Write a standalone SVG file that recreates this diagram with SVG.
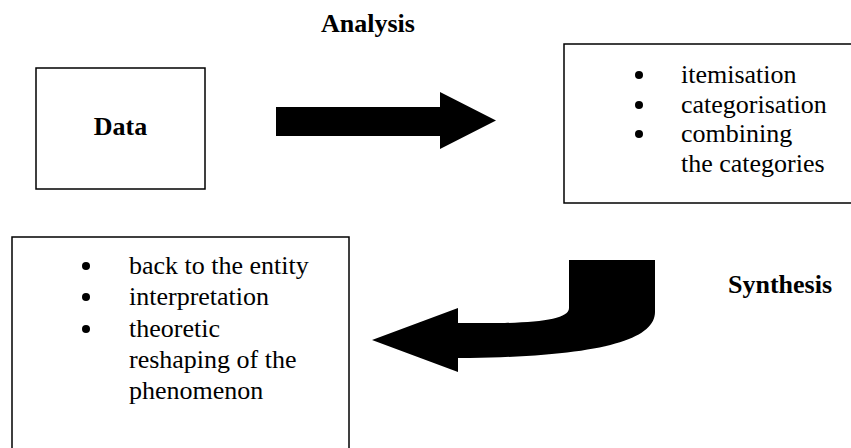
<svg xmlns="http://www.w3.org/2000/svg" width="851" height="448" viewBox="0 0 851 448">
<style>
.box{fill:#fff;stroke:#000;stroke-width:1.5}
.t{font-family:"Liberation Serif","Times New Roman",serif;font-size:26px;fill:#000}
.b{font-weight:bold}
.arrow{fill:#000;stroke:none}
</style>
<rect width="851" height="448" fill="#fff"/>
<text class="t b" x="321" y="32">Analysis</text>
<text class="t b" x="728" y="293">Synthesis</text>
<g id="data">
<rect class="box" x="36" y="68" width="169" height="121"/>
<text class="t b" x="120.5" y="135" text-anchor="middle">Data</text>
</g>
<g id="analysis-steps">
<rect class="box" x="564" y="44" width="300" height="159"/>
<circle cx="639" cy="75" r="4"/>
<circle cx="639" cy="105" r="4"/>
<circle cx="639" cy="134" r="4"/>
<text class="t" x="681" y="83">itemisation</text>
<text class="t" x="681" y="113">categorisation</text>
<text class="t" x="681" y="142">combining</text>
<text class="t" x="681" y="172">the categories</text>
</g>
<g id="synthesis-steps">
<rect class="box" x="12" y="237" width="337" height="220"/>
<circle cx="86" cy="266" r="4"/>
<circle cx="86" cy="297" r="4"/>
<circle cx="86" cy="329" r="4"/>
<text class="t" x="129" y="274">back to the entity</text>
<text class="t" x="129" y="305">interpretation</text>
<text class="t" x="129" y="337">theoretic</text>
<text class="t" x="129" y="368">reshaping of the</text>
<text class="t" x="129" y="399">phenomenon</text>
</g>
<g id="connectors">
<path class="arrow" d="M276 107 L440 107 L440 92 L496 120.5 L440 149 L440 136 L276 136 Z"/>
<path class="arrow" d="M372 340 L458 308 L458 323 L505 323 C545 322 569 318 569 308 L569 260 L655 260 L655 312 C655 340 600 356 470 358 L458 358 L458 372 Z"/>
</g>
</svg>
